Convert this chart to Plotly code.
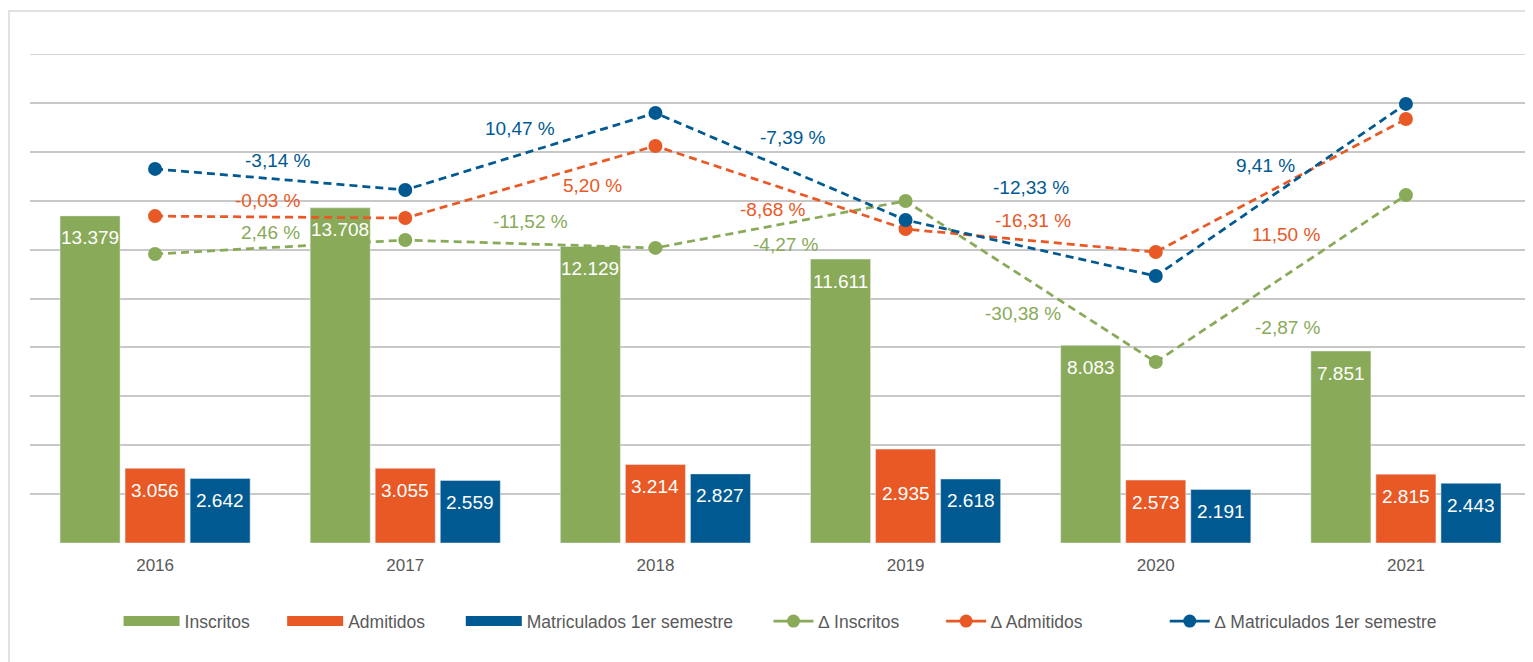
import plotly.graph_objects as go

years = ["2016", "2017", "2018", "2019", "2020", "2021"]
pos = list(range(len(years)))

# bar values (labels) and bar heights as drawn
inscritos = [13379, 13708, 12129, 11611, 8083, 7851]
admitidos = [3056, 3055, 3214, 2935, 2573, 2815]
admitidos_barra = [3056, 3055, 3214, 3840, 2573, 2815]
matriculados = [2642, 2559, 2827, 2618, 2191, 2443]

# line points (hidden secondary scale)
d_inscritos = [11820, 12390, 12070, 13990, 7400, 14230]
d_admitidos = [13370, 13290, 16240, 12840, 11900, 17340]
d_matriculados = [15300, 14440, 17590, 13210, 10920, 17960]

# variation labels, placed between years
pct_inscritos = ["2,46 %", "-11,52 %", "-4,27 %", "-30,38 %", "-2,87 %"]
pct_admitidos = ["-0,03 %", "5,20 %", "-8,68 %", "-16,31 %", "11,50 %"]
pct_matriculados = ["-3,14 %", "10,47 %", "-7,39 %", "-12,33 %", "9,41 %"]
pos_pct_inscritos = [(0.46, 12720), (1.50, 13130), (2.52, 12190), (3.47, 9400), (4.53, 8830)]
pos_pct_admitidos = [(0.45, 13990), (1.75, 14640), (2.47, 13660), (3.51, 13210), (4.52, 12600)]
pos_pct_matriculados = [(0.49, 15660), (1.46, 16970), (2.55, 16600), (3.50, 14520), (4.44, 15460)]

GREEN = "#89AA59"
ORANGE = "#E85926"
BLUE = "#005A91"
GREY = "#595959"
FONT = "Liberation Sans, Arial, sans-serif"
BARGAP = 0.22
SLOT = (1 - BARGAP) / 3
# legend entry left edges (paper fraction), one legend per entry
LEG_X = [0.059, 0.168, 0.287, 0.492, 0.607, 0.756]
LEG_ITEMW = [56, 56, 56, 40, 40, 40]

def fmt(v):
    return f"{v:,}".replace(",", ".")

fig = go.Figure()

bars = [(inscritos, inscritos, "Inscritos", GREEN),
        (admitidos_barra, admitidos, "Admitidos", ORANGE),
        (matriculados, matriculados, "Matriculados 1er semestre", BLUE)]
for g, (heights, labels, name, col) in enumerate(bars):
    fig.add_trace(go.Bar(x=pos, y=heights, name=name, marker_color=col, showlegend=False))
    for i, v in enumerate(labels):
        fig.add_annotation(x=i + (g - 1) * SLOT, y=v, xref="x", yref="y", text=fmt(v),
                           showarrow=False, yshift=-22,
                           font=dict(color="white", size=19, family=FONT))
    # legend entry with a wide swatch
    fig.add_trace(go.Scatter(x=[None], y=[None], name=name, mode="lines",
                             line=dict(color=col, width=16),
                             legend="legend" if g == 0 else f"legend{g + 1}"))

lines = [(d_inscritos, "∆ Inscritos", GREEN),
         (d_admitidos, "∆ Admitidos", ORANGE),
         (d_matriculados, "∆ Matriculados 1er semestre", BLUE)]
for g, (vals, name, col) in enumerate(lines):
    fig.add_trace(go.Scatter(x=pos, y=vals, name=name, yaxis="y2", mode="lines+markers",
                             line=dict(color=col, width=2.75, dash="8px,5px"),
                             marker=dict(color=col, size=14), showlegend=False))
    fig.add_trace(go.Scatter(x=[None], y=[None], name=name, mode="lines+markers",
                             line=dict(color=col, width=2.75), marker=dict(color=col, size=13),
                             legend=f"legend{g + 4}"))

for labels, places, col in [(pct_inscritos, pos_pct_inscritos, GREEN),
                            (pct_admitidos, pos_pct_admitidos, ORANGE),
                            (pct_matriculados, pos_pct_matriculados, BLUE)]:
    for t, (px, py) in zip(labels, places):
        fig.add_annotation(x=px, y=py, xref="x", yref="y", text=t, showarrow=False,
                           font=dict(color=col, size=19, family=FONT))

fig.add_shape(type="rect", xref="paper", yref="paper", x0=-0.014, x1=1.02, y0=-0.4, y1=1.088,
              line=dict(color="#D9D9D9", width=1.5), layer="below")
# top gridline at the edge of the value range
fig.add_shape(type="line", xref="paper", yref="y", x0=0, x1=1, y0=20000, y1=20000,
              line=dict(color="#C8C8C8", width=1.5), layer="below")

legend_style = dict(orientation="h", y=-0.16, yanchor="middle", xanchor="left",
                    font=dict(size=17.5, color=GREY, family=FONT),
                    bgcolor="rgba(0,0,0,0)")

fig.update_layout(
    width=1525, height=654,
    margin=dict(l=22, r=2, t=46, b=119),
    paper_bgcolor="white", plot_bgcolor="white",
    font=dict(family=FONT, color=GREY),
    barmode="group", bargap=BARGAP, bargroupgap=0.077,
    xaxis=dict(range=[-0.5, 5.5], tickvals=pos, ticktext=years, showgrid=False,
               zeroline=False, showline=False, ticks="", ticklabelstandoff=10,
               tickfont=dict(size=17, color=GREY)),
    yaxis=dict(range=[0, 20000], dtick=2000, showticklabels=False, gridcolor="#C8C8C8",
               gridwidth=1.5, zeroline=False, showline=False),
    yaxis2=dict(range=[0, 20000], overlaying="y", visible=False),
)
for k, (lx, iw) in enumerate(zip(LEG_X, LEG_ITEMW)):
    key = "legend" if k == 0 else f"legend{k + 1}"
    fig.update_layout({key: dict(legend_style, x=lx, itemwidth=iw)})

fig.write_html("out.html")
